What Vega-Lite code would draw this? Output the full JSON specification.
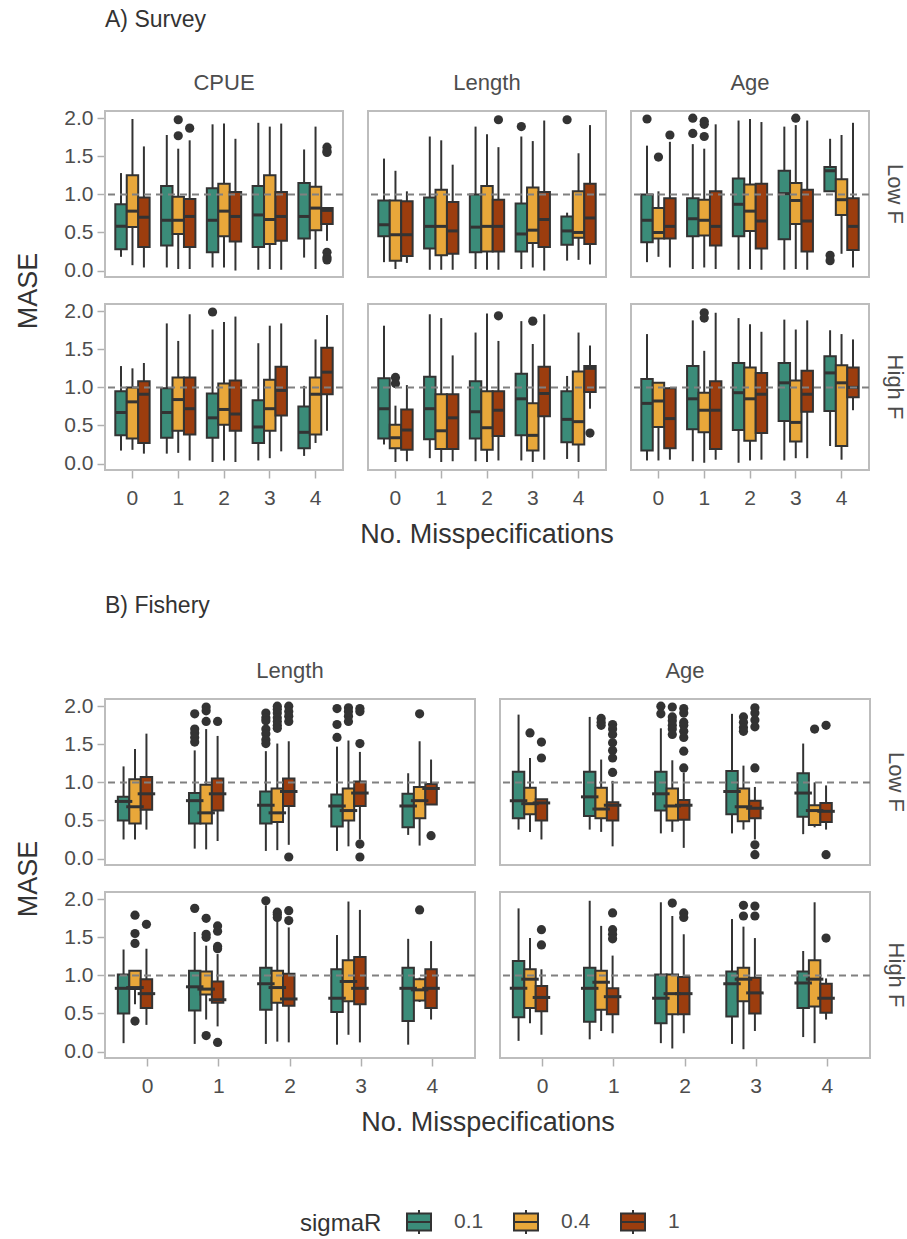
{
  "$schema": "https://vega.github.io/schema/vega-lite/v6.json",
  "background": "white",
  "padding": {"left": 15, "top": 9, "right": 4, "bottom": 100},
  "datasets": {
    "survey": [
      {"p":"CPUE","F":"Low F","x":0,"s":"0.1","lo":0.18,"q1":0.28,"m":0.58,"q3":0.87,"hi":1.28},
      {"p":"CPUE","F":"Low F","x":0,"s":"0.4","lo":0.07,"q1":0.57,"m":0.78,"q3":1.25,"hi":1.99},
      {"p":"CPUE","F":"Low F","x":0,"s":"1","lo":0.04,"q1":0.31,"m":0.70,"q3":0.96,"hi":1.63},
      {"p":"CPUE","F":"Low F","x":1,"s":"0.1","lo":0.04,"q1":0.33,"m":0.66,"q3":1.11,"hi":1.78},
      {"p":"CPUE","F":"Low F","x":1,"s":"0.4","lo":0.02,"q1":0.48,"m":0.66,"q3":0.97,"hi":1.60},
      {"p":"CPUE","F":"Low F","x":1,"s":"1","lo":0.02,"q1":0.31,"m":0.71,"q3":0.94,"hi":1.71},
      {"p":"CPUE","F":"Low F","x":2,"s":"0.1","lo":0.04,"q1":0.24,"m":0.66,"q3":1.08,"hi":1.92},
      {"p":"CPUE","F":"Low F","x":2,"s":"0.4","lo":0.04,"q1":0.45,"m":0.78,"q3":1.14,"hi":1.93},
      {"p":"CPUE","F":"Low F","x":2,"s":"1","lo":0.0,"q1":0.38,"m":0.71,"q3":1.03,"hi":1.73},
      {"p":"CPUE","F":"Low F","x":3,"s":"0.1","lo":0.01,"q1":0.31,"m":0.73,"q3":1.11,"hi":1.94},
      {"p":"CPUE","F":"Low F","x":3,"s":"0.4","lo":0.02,"q1":0.35,"m":0.67,"q3":1.25,"hi":1.89},
      {"p":"CPUE","F":"Low F","x":3,"s":"1","lo":0.01,"q1":0.39,"m":0.71,"q3":1.03,"hi":1.93},
      {"p":"CPUE","F":"Low F","x":4,"s":"0.1","lo":0.17,"q1":0.42,"m":0.71,"q3":1.15,"hi":1.59},
      {"p":"CPUE","F":"Low F","x":4,"s":"0.4","lo":0.02,"q1":0.53,"m":0.82,"q3":1.10,"hi":1.89},
      {"p":"CPUE","F":"Low F","x":4,"s":"1","lo":0.39,"q1":0.61,"m":0.79,"q3":0.82,"hi":0.82},
      {"p":"CPUE","F":"Low F","x":1,"s":"0.4","o":1.98},
      {"p":"CPUE","F":"Low F","x":1,"s":"0.4","o":1.77},
      {"p":"CPUE","F":"Low F","x":1,"s":"1","o":1.87},
      {"p":"CPUE","F":"Low F","x":4,"s":"1","o":1.62},
      {"p":"CPUE","F":"Low F","x":4,"s":"1","o":1.57},
      {"p":"CPUE","F":"Low F","x":4,"s":"1","o":1.55},
      {"p":"CPUE","F":"Low F","x":4,"s":"1","o":0.24},
      {"p":"CPUE","F":"Low F","x":4,"s":"1","o":0.17},
      {"p":"CPUE","F":"Low F","x":4,"s":"1","o":0.14},

      {"p":"Length","F":"Low F","x":0,"s":"0.1","lo":0.11,"q1":0.45,"m":0.60,"q3":0.92,"hi":1.47},
      {"p":"Length","F":"Low F","x":0,"s":"0.4","lo":0.02,"q1":0.13,"m":0.47,"q3":0.92,"hi":1.31},
      {"p":"Length","F":"Low F","x":0,"s":"1","lo":0.10,"q1":0.19,"m":0.47,"q3":0.91,"hi":1.04},
      {"p":"Length","F":"Low F","x":1,"s":"0.1","lo":0.01,"q1":0.29,"m":0.58,"q3":0.96,"hi":1.76},
      {"p":"Length","F":"Low F","x":1,"s":"0.4","lo":0.01,"q1":0.20,"m":0.58,"q3":1.06,"hi":1.71},
      {"p":"Length","F":"Low F","x":1,"s":"1","lo":0.01,"q1":0.22,"m":0.52,"q3":0.90,"hi":1.39},
      {"p":"Length","F":"Low F","x":2,"s":"0.1","lo":0.02,"q1":0.24,"m":0.57,"q3":1.00,"hi":1.89},
      {"p":"Length","F":"Low F","x":2,"s":"0.4","lo":0.01,"q1":0.25,"m":0.58,"q3":1.11,"hi":1.79},
      {"p":"Length","F":"Low F","x":2,"s":"1","lo":0.01,"q1":0.25,"m":0.58,"q3":0.93,"hi":1.62},
      {"p":"Length","F":"Low F","x":3,"s":"0.1","lo":0.02,"q1":0.25,"m":0.48,"q3":0.88,"hi":1.76},
      {"p":"Length","F":"Low F","x":3,"s":"0.4","lo":0.04,"q1":0.36,"m":0.53,"q3":1.09,"hi":1.70},
      {"p":"Length","F":"Low F","x":3,"s":"1","lo":0.0,"q1":0.31,"m":0.67,"q3":1.03,"hi":1.97},
      {"p":"Length","F":"Low F","x":4,"s":"0.1","lo":0.13,"q1":0.34,"m":0.52,"q3":0.71,"hi":0.76},
      {"p":"Length","F":"Low F","x":4,"s":"0.4","lo":0.14,"q1":0.43,"m":0.50,"q3":1.04,"hi":1.54},
      {"p":"Length","F":"Low F","x":4,"s":"1","lo":0.08,"q1":0.35,"m":0.69,"q3":1.14,"hi":1.91},
      {"p":"Length","F":"Low F","x":2,"s":"1","o":1.98},
      {"p":"Length","F":"Low F","x":3,"s":"0.1","o":1.89},
      {"p":"Length","F":"Low F","x":4,"s":"0.1","o":1.98},

      {"p":"Age","F":"Low F","x":0,"s":"0.1","lo":0.11,"q1":0.37,"m":0.66,"q3":1.00,"hi":1.64},
      {"p":"Age","F":"Low F","x":0,"s":"0.4","lo":0.18,"q1":0.42,"m":0.50,"q3":0.82,"hi":1.04},
      {"p":"Age","F":"Low F","x":0,"s":"1","lo":0.04,"q1":0.42,"m":0.58,"q3":0.95,"hi":1.69},
      {"p":"Age","F":"Low F","x":1,"s":"0.1","lo":0.02,"q1":0.45,"m":0.68,"q3":0.95,"hi":1.66},
      {"p":"Age","F":"Low F","x":1,"s":"0.4","lo":0.04,"q1":0.46,"m":0.66,"q3":0.93,"hi":1.60},
      {"p":"Age","F":"Low F","x":1,"s":"1","lo":0.02,"q1":0.33,"m":0.58,"q3":1.04,"hi":1.92},
      {"p":"Age","F":"Low F","x":2,"s":"0.1","lo":0.01,"q1":0.45,"m":0.87,"q3":1.21,"hi":1.97},
      {"p":"Age","F":"Low F","x":2,"s":"0.4","lo":0.02,"q1":0.52,"m":0.78,"q3":1.13,"hi":1.99},
      {"p":"Age","F":"Low F","x":2,"s":"1","lo":0.01,"q1":0.29,"m":0.65,"q3":1.14,"hi":1.95},
      {"p":"Age","F":"Low F","x":3,"s":"0.1","lo":0.01,"q1":0.41,"m":1.01,"q3":1.31,"hi":1.89},
      {"p":"Age","F":"Low F","x":3,"s":"0.4","lo":0.02,"q1":0.61,"m":0.92,"q3":1.15,"hi":1.91},
      {"p":"Age","F":"Low F","x":3,"s":"1","lo":0.01,"q1":0.25,"m":0.65,"q3":1.06,"hi":1.97},
      {"p":"Age","F":"Low F","x":4,"s":"0.1","lo":1.04,"q1":1.04,"m":1.31,"q3":1.36,"hi":1.73},
      {"p":"Age","F":"Low F","x":4,"s":"0.4","lo":0.22,"q1":0.73,"m":0.93,"q3":1.20,"hi":1.78},
      {"p":"Age","F":"Low F","x":4,"s":"1","lo":0.04,"q1":0.27,"m":0.58,"q3":0.95,"hi":1.94},
      {"p":"Age","F":"Low F","x":0,"s":"0.1","o":1.99},
      {"p":"Age","F":"Low F","x":0,"s":"0.4","o":1.49},
      {"p":"Age","F":"Low F","x":0,"s":"1","o":1.78},
      {"p":"Age","F":"Low F","x":1,"s":"0.1","o":2.0},
      {"p":"Age","F":"Low F","x":1,"s":"0.1","o":1.80},
      {"p":"Age","F":"Low F","x":1,"s":"0.4","o":1.96},
      {"p":"Age","F":"Low F","x":1,"s":"0.4","o":1.92},
      {"p":"Age","F":"Low F","x":1,"s":"0.4","o":1.76},
      {"p":"Age","F":"Low F","x":3,"s":"0.4","o":2.0},
      {"p":"Age","F":"Low F","x":4,"s":"0.1","o":0.20},
      {"p":"Age","F":"Low F","x":4,"s":"0.1","o":0.13},

      {"p":"CPUE","F":"High F","x":0,"s":"0.1","lo":0.17,"q1":0.37,"m":0.67,"q3":0.95,"hi":1.28},
      {"p":"CPUE","F":"High F","x":0,"s":"0.4","lo":0.18,"q1":0.33,"m":0.81,"q3":1.00,"hi":1.25},
      {"p":"CPUE","F":"High F","x":0,"s":"1","lo":0.13,"q1":0.27,"m":0.91,"q3":1.08,"hi":1.32},
      {"p":"CPUE","F":"High F","x":1,"s":"0.1","lo":0.13,"q1":0.34,"m":0.67,"q3":0.99,"hi":1.84},
      {"p":"CPUE","F":"High F","x":1,"s":"0.4","lo":0.14,"q1":0.43,"m":0.84,"q3":1.13,"hi":1.61},
      {"p":"CPUE","F":"High F","x":1,"s":"1","lo":0.04,"q1":0.38,"m":0.72,"q3":1.13,"hi":1.96},
      {"p":"CPUE","F":"High F","x":2,"s":"0.1","lo":0.02,"q1":0.34,"m":0.60,"q3":0.92,"hi":1.76},
      {"p":"CPUE","F":"High F","x":2,"s":"0.4","lo":0.04,"q1":0.51,"m":0.71,"q3":1.05,"hi":1.86},
      {"p":"CPUE","F":"High F","x":2,"s":"1","lo":0.02,"q1":0.43,"m":0.65,"q3":1.09,"hi":1.93},
      {"p":"CPUE","F":"High F","x":3,"s":"0.1","lo":0.04,"q1":0.27,"m":0.48,"q3":0.83,"hi":1.58},
      {"p":"CPUE","F":"High F","x":3,"s":"0.4","lo":0.07,"q1":0.43,"m":0.72,"q3":1.10,"hi":1.81},
      {"p":"CPUE","F":"High F","x":3,"s":"1","lo":0.16,"q1":0.63,"m":0.96,"q3":1.27,"hi":1.84},
      {"p":"CPUE","F":"High F","x":4,"s":"0.1","lo":0.10,"q1":0.20,"m":0.41,"q3":0.75,"hi":1.02},
      {"p":"CPUE","F":"High F","x":4,"s":"0.4","lo":0.27,"q1":0.38,"m":0.91,"q3":1.13,"hi":1.63},
      {"p":"CPUE","F":"High F","x":4,"s":"1","lo":0.43,"q1":0.91,"m":1.20,"q3":1.52,"hi":1.95},
      {"p":"CPUE","F":"High F","x":2,"s":"0.1","o":1.99},

      {"p":"Length","F":"High F","x":0,"s":"0.1","lo":0.25,"q1":0.33,"m":0.72,"q3":1.12,"hi":1.81},
      {"p":"Length","F":"High F","x":0,"s":"0.4","lo":0.02,"q1":0.20,"m":0.34,"q3":0.51,"hi":0.76},
      {"p":"Length","F":"High F","x":0,"s":"1","lo":0.03,"q1":0.18,"m":0.44,"q3":0.71,"hi":1.03},
      {"p":"Length","F":"High F","x":1,"s":"0.1","lo":0.07,"q1":0.32,"m":0.72,"q3":1.14,"hi":1.96},
      {"p":"Length","F":"High F","x":1,"s":"0.4","lo":0.02,"q1":0.19,"m":0.43,"q3":0.91,"hi":1.91},
      {"p":"Length","F":"High F","x":1,"s":"1","lo":0.03,"q1":0.19,"m":0.60,"q3":0.91,"hi":1.42},
      {"p":"Length","F":"High F","x":2,"s":"0.1","lo":0.03,"q1":0.33,"m":0.68,"q3":1.08,"hi":1.72},
      {"p":"Length","F":"High F","x":2,"s":"0.4","lo":0.02,"q1":0.18,"m":0.47,"q3":0.95,"hi":1.97},
      {"p":"Length","F":"High F","x":2,"s":"1","lo":0.04,"q1":0.36,"m":0.70,"q3":0.95,"hi":1.61},
      {"p":"Length","F":"High F","x":3,"s":"0.1","lo":0.04,"q1":0.37,"m":0.85,"q3":1.18,"hi":1.87},
      {"p":"Length","F":"High F","x":3,"s":"0.4","lo":0.02,"q1":0.17,"m":0.37,"q3":0.79,"hi":1.57},
      {"p":"Length","F":"High F","x":3,"s":"1","lo":0.05,"q1":0.62,"m":0.92,"q3":1.27,"hi":1.96},
      {"p":"Length","F":"High F","x":4,"s":"0.1","lo":0.06,"q1":0.28,"m":0.58,"q3":0.95,"hi":1.15},
      {"p":"Length","F":"High F","x":4,"s":"0.4","lo":0.02,"q1":0.25,"m":0.55,"q3":1.21,"hi":1.72},
      {"p":"Length","F":"High F","x":4,"s":"1","lo":0.72,"q1":0.94,"m":1.25,"q3":1.28,"hi":1.55},
      {"p":"Length","F":"High F","x":0,"s":"0.4","o":1.13},
      {"p":"Length","F":"High F","x":0,"s":"0.4","o":1.05},
      {"p":"Length","F":"High F","x":2,"s":"1","o":1.94},
      {"p":"Length","F":"High F","x":3,"s":"0.4","o":1.87},
      {"p":"Length","F":"High F","x":4,"s":"1","o":0.40},

      {"p":"Age","F":"High F","x":0,"s":"0.1","lo":0.04,"q1":0.17,"m":0.79,"q3":1.11,"hi":1.70},
      {"p":"Age","F":"High F","x":0,"s":"0.4","lo":0.04,"q1":0.48,"m":0.82,"q3":1.06,"hi":1.06},
      {"p":"Age","F":"High F","x":0,"s":"1","lo":0.05,"q1":0.20,"m":0.59,"q3":0.99,"hi":1.00},
      {"p":"Age","F":"High F","x":1,"s":"0.1","lo":0.03,"q1":0.45,"m":0.85,"q3":1.28,"hi":1.88},
      {"p":"Age","F":"High F","x":1,"s":"0.4","lo":0.01,"q1":0.41,"m":0.70,"q3":0.93,"hi":1.48},
      {"p":"Age","F":"High F","x":1,"s":"1","lo":0.05,"q1":0.19,"m":0.70,"q3":1.08,"hi":1.98},
      {"p":"Age","F":"High F","x":2,"s":"0.1","lo":0.01,"q1":0.44,"m":0.93,"q3":1.32,"hi":1.91},
      {"p":"Age","F":"High F","x":2,"s":"0.4","lo":0.04,"q1":0.30,"m":0.85,"q3":1.26,"hi":1.83},
      {"p":"Age","F":"High F","x":2,"s":"1","lo":0.05,"q1":0.40,"m":0.91,"q3":1.19,"hi":1.73},
      {"p":"Age","F":"High F","x":3,"s":"0.1","lo":0.04,"q1":0.56,"m":1.06,"q3":1.32,"hi":1.89},
      {"p":"Age","F":"High F","x":3,"s":"0.4","lo":0.07,"q1":0.29,"m":0.54,"q3":1.09,"hi":1.76},
      {"p":"Age","F":"High F","x":3,"s":"1","lo":0.07,"q1":0.68,"m":0.91,"q3":1.22,"hi":1.88},
      {"p":"Age","F":"High F","x":4,"s":"0.1","lo":0.23,"q1":0.69,"m":1.19,"q3":1.41,"hi":1.75},
      {"p":"Age","F":"High F","x":4,"s":"0.4","lo":0.05,"q1":0.23,"m":1.06,"q3":1.29,"hi":1.70},
      {"p":"Age","F":"High F","x":4,"s":"1","lo":0.70,"q1":0.87,"m":1.00,"q3":1.26,"hi":1.63},
      {"p":"Age","F":"High F","x":1,"s":"0.4","o":1.98},
      {"p":"Age","F":"High F","x":1,"s":"0.4","o":1.91}
    ],
    "fishery": [
      {"p":"Length","F":"Low F","x":0,"s":"0.1","lo":0.25,"q1":0.50,"m":0.75,"q3":0.81,"hi":1.21},
      {"p":"Length","F":"Low F","x":0,"s":"0.4","lo":0.25,"q1":0.46,"m":0.68,"q3":1.04,"hi":1.44},
      {"p":"Length","F":"Low F","x":0,"s":"1","lo":0.38,"q1":0.64,"m":0.85,"q3":1.07,"hi":1.64},
      {"p":"Length","F":"Low F","x":1,"s":"0.1","lo":0.13,"q1":0.46,"m":0.76,"q3":0.86,"hi":1.42},
      {"p":"Length","F":"Low F","x":1,"s":"0.4","lo":0.12,"q1":0.46,"m":0.60,"q3":0.97,"hi":1.70},
      {"p":"Length","F":"Low F","x":1,"s":"1","lo":0.23,"q1":0.63,"m":0.85,"q3":1.05,"hi":1.61},
      {"p":"Length","F":"Low F","x":2,"s":"0.1","lo":0.10,"q1":0.46,"m":0.70,"q3":0.88,"hi":1.41},
      {"p":"Length","F":"Low F","x":2,"s":"0.4","lo":0.11,"q1":0.48,"m":0.60,"q3":0.92,"hi":1.51},
      {"p":"Length","F":"Low F","x":2,"s":"1","lo":0.18,"q1":0.69,"m":0.88,"q3":1.05,"hi":1.54},
      {"p":"Length","F":"Low F","x":3,"s":"0.1","lo":0.10,"q1":0.42,"m":0.69,"q3":0.84,"hi":1.47},
      {"p":"Length","F":"Low F","x":3,"s":"0.4","lo":0.16,"q1":0.50,"m":0.63,"q3":0.92,"hi":1.55},
      {"p":"Length","F":"Low F","x":3,"s":"1","lo":0.25,"q1":0.69,"m":0.86,"q3":1.01,"hi":1.40},
      {"p":"Length","F":"Low F","x":4,"s":"0.1","lo":0.31,"q1":0.41,"m":0.69,"q3":0.85,"hi":1.12},
      {"p":"Length","F":"Low F","x":4,"s":"0.4","lo":0.17,"q1":0.53,"m":0.76,"q3":0.94,"hi":1.54},
      {"p":"Length","F":"Low F","x":4,"s":"1","lo":0.71,"q1":0.71,"m":0.92,"q3":0.98,"hi":1.30},
      {"p":"Length","F":"Low F","x":1,"s":"0.1","o":1.90},
      {"p":"Length","F":"Low F","x":1,"s":"0.1","o":1.70},
      {"p":"Length","F":"Low F","x":1,"s":"0.1","o":1.65},
      {"p":"Length","F":"Low F","x":1,"s":"0.1","o":1.59},
      {"p":"Length","F":"Low F","x":1,"s":"0.1","o":1.53},
      {"p":"Length","F":"Low F","x":1,"s":"0.4","o":1.99},
      {"p":"Length","F":"Low F","x":1,"s":"0.4","o":1.94},
      {"p":"Length","F":"Low F","x":1,"s":"0.4","o":1.80},
      {"p":"Length","F":"Low F","x":1,"s":"1","o":1.80},
      {"p":"Length","F":"Low F","x":2,"s":"0.1","o":1.91},
      {"p":"Length","F":"Low F","x":2,"s":"0.1","o":1.85},
      {"p":"Length","F":"Low F","x":2,"s":"0.1","o":1.81},
      {"p":"Length","F":"Low F","x":2,"s":"0.1","o":1.70},
      {"p":"Length","F":"Low F","x":2,"s":"0.1","o":1.64},
      {"p":"Length","F":"Low F","x":2,"s":"0.1","o":1.56},
      {"p":"Length","F":"Low F","x":2,"s":"0.1","o":1.51},
      {"p":"Length","F":"Low F","x":2,"s":"0.4","o":2.0},
      {"p":"Length","F":"Low F","x":2,"s":"0.4","o":1.96},
      {"p":"Length","F":"Low F","x":2,"s":"0.4","o":1.91},
      {"p":"Length","F":"Low F","x":2,"s":"0.4","o":1.85},
      {"p":"Length","F":"Low F","x":2,"s":"0.4","o":1.80},
      {"p":"Length","F":"Low F","x":2,"s":"0.4","o":1.75},
      {"p":"Length","F":"Low F","x":2,"s":"0.4","o":1.71},
      {"p":"Length","F":"Low F","x":2,"s":"1","o":2.0},
      {"p":"Length","F":"Low F","x":2,"s":"1","o":1.93},
      {"p":"Length","F":"Low F","x":2,"s":"1","o":1.87},
      {"p":"Length","F":"Low F","x":2,"s":"1","o":1.80},
      {"p":"Length","F":"Low F","x":2,"s":"1","o":0.02},
      {"p":"Length","F":"Low F","x":3,"s":"0.1","o":1.97},
      {"p":"Length","F":"Low F","x":3,"s":"0.1","o":1.76},
      {"p":"Length","F":"Low F","x":3,"s":"0.1","o":1.59},
      {"p":"Length","F":"Low F","x":3,"s":"0.4","o":1.98},
      {"p":"Length","F":"Low F","x":3,"s":"0.4","o":1.93},
      {"p":"Length","F":"Low F","x":3,"s":"0.4","o":1.87},
      {"p":"Length","F":"Low F","x":3,"s":"0.4","o":1.80},
      {"p":"Length","F":"Low F","x":3,"s":"1","o":1.97},
      {"p":"Length","F":"Low F","x":3,"s":"1","o":1.93},
      {"p":"Length","F":"Low F","x":3,"s":"1","o":1.51},
      {"p":"Length","F":"Low F","x":3,"s":"1","o":0.19},
      {"p":"Length","F":"Low F","x":3,"s":"1","o":0.02},
      {"p":"Length","F":"Low F","x":4,"s":"0.4","o":1.90},
      {"p":"Length","F":"Low F","x":4,"s":"1","o":0.30},

      {"p":"Age","F":"Low F","x":0,"s":"0.1","lo":0.38,"q1":0.53,"m":0.76,"q3":1.14,"hi":1.89},
      {"p":"Age","F":"Low F","x":0,"s":"0.4","lo":0.35,"q1":0.58,"m":0.72,"q3":0.93,"hi":1.32},
      {"p":"Age","F":"Low F","x":0,"s":"1","lo":0.25,"q1":0.50,"m":0.73,"q3":0.78,"hi":0.78},
      {"p":"Age","F":"Low F","x":1,"s":"0.1","lo":0.38,"q1":0.56,"m":0.81,"q3":1.14,"hi":1.86},
      {"p":"Age","F":"Low F","x":1,"s":"0.4","lo":0.35,"q1":0.53,"m":0.65,"q3":0.93,"hi":1.30},
      {"p":"Age","F":"Low F","x":1,"s":"1","lo":0.16,"q1":0.50,"m":0.70,"q3":0.74,"hi":1.02},
      {"p":"Age","F":"Low F","x":2,"s":"0.1","lo":0.33,"q1":0.63,"m":0.85,"q3":1.14,"hi":1.71},
      {"p":"Age","F":"Low F","x":2,"s":"0.4","lo":0.35,"q1":0.50,"m":0.69,"q3":0.92,"hi":1.29},
      {"p":"Age","F":"Low F","x":2,"s":"1","lo":0.14,"q1":0.51,"m":0.70,"q3":0.77,"hi":1.13},
      {"p":"Age","F":"Low F","x":3,"s":"0.1","lo":0.33,"q1":0.58,"m":0.88,"q3":1.15,"hi":1.90},
      {"p":"Age","F":"Low F","x":3,"s":"0.4","lo":0.38,"q1":0.49,"m":0.68,"q3":0.92,"hi":1.22},
      {"p":"Age","F":"Low F","x":3,"s":"1","lo":0.25,"q1":0.53,"m":0.66,"q3":0.76,"hi":0.94},
      {"p":"Age","F":"Low F","x":4,"s":"0.1","lo":0.32,"q1":0.55,"m":0.86,"q3":1.12,"hi":1.51},
      {"p":"Age","F":"Low F","x":4,"s":"0.4","lo":0.41,"q1":0.44,"m":0.63,"q3":0.70,"hi":1.00},
      {"p":"Age","F":"Low F","x":4,"s":"1","lo":0.38,"q1":0.48,"m":0.62,"q3":0.73,"hi":0.96},
      {"p":"Age","F":"Low F","x":0,"s":"0.4","o":1.65},
      {"p":"Age","F":"Low F","x":0,"s":"1","o":1.53},
      {"p":"Age","F":"Low F","x":0,"s":"1","o":1.32},
      {"p":"Age","F":"Low F","x":1,"s":"0.4","o":1.84},
      {"p":"Age","F":"Low F","x":1,"s":"0.4","o":1.79},
      {"p":"Age","F":"Low F","x":1,"s":"0.4","o":1.75},
      {"p":"Age","F":"Low F","x":1,"s":"1","o":1.76},
      {"p":"Age","F":"Low F","x":1,"s":"1","o":1.70},
      {"p":"Age","F":"Low F","x":1,"s":"1","o":1.63},
      {"p":"Age","F":"Low F","x":1,"s":"1","o":1.52},
      {"p":"Age","F":"Low F","x":1,"s":"1","o":1.42},
      {"p":"Age","F":"Low F","x":1,"s":"1","o":1.32},
      {"p":"Age","F":"Low F","x":1,"s":"1","o":1.13},
      {"p":"Age","F":"Low F","x":2,"s":"0.1","o":2.0},
      {"p":"Age","F":"Low F","x":2,"s":"0.1","o":1.90},
      {"p":"Age","F":"Low F","x":2,"s":"0.4","o":1.99},
      {"p":"Age","F":"Low F","x":2,"s":"0.4","o":1.86},
      {"p":"Age","F":"Low F","x":2,"s":"0.4","o":1.81},
      {"p":"Age","F":"Low F","x":2,"s":"0.4","o":1.75},
      {"p":"Age","F":"Low F","x":2,"s":"0.4","o":1.70},
      {"p":"Age","F":"Low F","x":2,"s":"0.4","o":1.63},
      {"p":"Age","F":"Low F","x":2,"s":"1","o":1.97},
      {"p":"Age","F":"Low F","x":2,"s":"1","o":1.91},
      {"p":"Age","F":"Low F","x":2,"s":"1","o":1.79},
      {"p":"Age","F":"Low F","x":2,"s":"1","o":1.75},
      {"p":"Age","F":"Low F","x":2,"s":"1","o":1.67},
      {"p":"Age","F":"Low F","x":2,"s":"1","o":1.59},
      {"p":"Age","F":"Low F","x":2,"s":"1","o":1.41},
      {"p":"Age","F":"Low F","x":2,"s":"1","o":1.19},
      {"p":"Age","F":"Low F","x":3,"s":"0.4","o":1.86},
      {"p":"Age","F":"Low F","x":3,"s":"0.4","o":1.79},
      {"p":"Age","F":"Low F","x":3,"s":"0.4","o":1.72},
      {"p":"Age","F":"Low F","x":3,"s":"0.4","o":1.67},
      {"p":"Age","F":"Low F","x":3,"s":"1","o":1.98},
      {"p":"Age","F":"Low F","x":3,"s":"1","o":1.91},
      {"p":"Age","F":"Low F","x":3,"s":"1","o":1.82},
      {"p":"Age","F":"Low F","x":3,"s":"1","o":1.73},
      {"p":"Age","F":"Low F","x":3,"s":"1","o":1.19},
      {"p":"Age","F":"Low F","x":3,"s":"1","o":0.18},
      {"p":"Age","F":"Low F","x":3,"s":"1","o":0.05},
      {"p":"Age","F":"Low F","x":4,"s":"0.4","o":1.70},
      {"p":"Age","F":"Low F","x":4,"s":"1","o":1.75},
      {"p":"Age","F":"Low F","x":4,"s":"1","o":0.05},

      {"p":"Length","F":"High F","x":0,"s":"0.1","lo":0.11,"q1":0.50,"m":0.83,"q3":1.01,"hi":1.34},
      {"p":"Length","F":"High F","x":0,"s":"0.4","lo":0.62,"q1":0.82,"m":0.84,"q3":1.06,"hi":1.06},
      {"p":"Length","F":"High F","x":0,"s":"1","lo":0.35,"q1":0.57,"m":0.76,"q3":0.95,"hi":1.35},
      {"p":"Length","F":"High F","x":1,"s":"0.1","lo":0.10,"q1":0.54,"m":0.85,"q3":1.06,"hi":1.57},
      {"p":"Length","F":"High F","x":1,"s":"0.4","lo":0.42,"q1":0.75,"m":0.82,"q3":1.05,"hi":1.39},
      {"p":"Length","F":"High F","x":1,"s":"1","lo":0.33,"q1":0.64,"m":0.68,"q3":0.92,"hi":1.28},
      {"p":"Length","F":"High F","x":2,"s":"0.1","lo":0.10,"q1":0.55,"m":0.89,"q3":1.10,"hi":1.92},
      {"p":"Length","F":"High F","x":2,"s":"0.4","lo":0.13,"q1":0.64,"m":0.84,"q3":1.06,"hi":1.72},
      {"p":"Length","F":"High F","x":2,"s":"1","lo":0.12,"q1":0.60,"m":0.69,"q3":1.02,"hi":1.63},
      {"p":"Length","F":"High F","x":3,"s":"0.1","lo":0.09,"q1":0.52,"m":0.70,"q3":1.08,"hi":1.53},
      {"p":"Length","F":"High F","x":3,"s":"0.4","lo":0.22,"q1":0.66,"m":0.92,"q3":1.20,"hi":1.97},
      {"p":"Length","F":"High F","x":3,"s":"1","lo":0.12,"q1":0.62,"m":0.83,"q3":1.24,"hi":1.86},
      {"p":"Length","F":"High F","x":4,"s":"0.1","lo":0.09,"q1":0.40,"m":0.83,"q3":1.10,"hi":1.48},
      {"p":"Length","F":"High F","x":4,"s":"0.4","lo":0.65,"q1":0.67,"m":0.81,"q3":0.95,"hi":0.97},
      {"p":"Length","F":"High F","x":4,"s":"1","lo":0.42,"q1":0.57,"m":0.83,"q3":1.08,"hi":1.45},
      {"p":"Length","F":"High F","x":0,"s":"0.4","o":1.79},
      {"p":"Length","F":"High F","x":0,"s":"0.4","o":1.55},
      {"p":"Length","F":"High F","x":0,"s":"0.4","o":1.42},
      {"p":"Length","F":"High F","x":0,"s":"0.4","o":0.40},
      {"p":"Length","F":"High F","x":0,"s":"1","o":1.67},
      {"p":"Length","F":"High F","x":1,"s":"0.1","o":1.88},
      {"p":"Length","F":"High F","x":1,"s":"0.4","o":1.75},
      {"p":"Length","F":"High F","x":1,"s":"0.4","o":1.54},
      {"p":"Length","F":"High F","x":1,"s":"0.4","o":1.50},
      {"p":"Length","F":"High F","x":1,"s":"0.4","o":0.21},
      {"p":"Length","F":"High F","x":1,"s":"1","o":1.65},
      {"p":"Length","F":"High F","x":1,"s":"1","o":1.58},
      {"p":"Length","F":"High F","x":1,"s":"1","o":1.38},
      {"p":"Length","F":"High F","x":1,"s":"1","o":1.35},
      {"p":"Length","F":"High F","x":1,"s":"1","o":0.12},
      {"p":"Length","F":"High F","x":2,"s":"0.1","o":1.98},
      {"p":"Length","F":"High F","x":2,"s":"0.4","o":1.83},
      {"p":"Length","F":"High F","x":2,"s":"0.4","o":1.80},
      {"p":"Length","F":"High F","x":2,"s":"0.4","o":1.76},
      {"p":"Length","F":"High F","x":2,"s":"1","o":1.85},
      {"p":"Length","F":"High F","x":2,"s":"1","o":1.72},
      {"p":"Length","F":"High F","x":4,"s":"0.4","o":1.86},

      {"p":"Age","F":"High F","x":0,"s":"0.1","lo":0.14,"q1":0.45,"m":0.83,"q3":1.19,"hi":1.88},
      {"p":"Age","F":"High F","x":0,"s":"0.4","lo":0.37,"q1":0.57,"m":0.95,"q3":1.08,"hi":1.49},
      {"p":"Age","F":"High F","x":0,"s":"1","lo":0.22,"q1":0.53,"m":0.71,"q3":0.86,"hi":1.08},
      {"p":"Age","F":"High F","x":1,"s":"0.1","lo":0.16,"q1":0.39,"m":0.83,"q3":1.10,"hi":1.98},
      {"p":"Age","F":"High F","x":1,"s":"0.4","lo":0.27,"q1":0.55,"m":0.91,"q3":1.06,"hi":1.65},
      {"p":"Age","F":"High F","x":1,"s":"1","lo":0.24,"q1":0.49,"m":0.72,"q3":0.83,"hi":1.26},
      {"p":"Age","F":"High F","x":2,"s":"0.1","lo":0.11,"q1":0.37,"m":0.70,"q3":1.01,"hi":1.96},
      {"p":"Age","F":"High F","x":2,"s":"0.4","lo":0.04,"q1":0.49,"m":0.76,"q3":1.01,"hi":1.78},
      {"p":"Age","F":"High F","x":2,"s":"1","lo":0.24,"q1":0.49,"m":0.76,"q3":0.98,"hi":1.54},
      {"p":"Age","F":"High F","x":3,"s":"0.1","lo":0.10,"q1":0.46,"m":0.89,"q3":1.05,"hi":1.74},
      {"p":"Age","F":"High F","x":3,"s":"0.4","lo":0.03,"q1":0.66,"m":0.95,"q3":1.10,"hi":1.64},
      {"p":"Age","F":"High F","x":3,"s":"1","lo":0.27,"q1":0.50,"m":0.77,"q3":0.97,"hi":1.49},
      {"p":"Age","F":"High F","x":4,"s":"0.1","lo":0.19,"q1":0.57,"m":0.90,"q3":1.05,"hi":1.32},
      {"p":"Age","F":"High F","x":4,"s":"0.4","lo":0.11,"q1":0.59,"m":0.95,"q3":1.20,"hi":1.96},
      {"p":"Age","F":"High F","x":4,"s":"1","lo":0.42,"q1":0.51,"m":0.70,"q3":0.89,"hi":0.96},
      {"p":"Age","F":"High F","x":0,"s":"1","o":1.60},
      {"p":"Age","F":"High F","x":0,"s":"1","o":1.40},
      {"p":"Age","F":"High F","x":1,"s":"1","o":1.82},
      {"p":"Age","F":"High F","x":1,"s":"1","o":1.60},
      {"p":"Age","F":"High F","x":1,"s":"1","o":1.54},
      {"p":"Age","F":"High F","x":1,"s":"1","o":1.48},
      {"p":"Age","F":"High F","x":2,"s":"0.4","o":1.95},
      {"p":"Age","F":"High F","x":2,"s":"1","o":1.82},
      {"p":"Age","F":"High F","x":2,"s":"1","o":1.76},
      {"p":"Age","F":"High F","x":3,"s":"0.4","o":1.92},
      {"p":"Age","F":"High F","x":3,"s":"0.4","o":1.78},
      {"p":"Age","F":"High F","x":3,"s":"1","o":1.91},
      {"p":"Age","F":"High F","x":3,"s":"1","o":1.78},
      {"p":"Age","F":"High F","x":4,"s":"1","o":1.49}
    ]
  },
  "vconcat": [
    {
      "title": {"text": "A) Survey", "anchor": "start", "frame": "group", "offset": 40},
      "data": {"name": "survey"},
      "bounds": "flush",
      "facet": {
        "row": {"field": "F", "type": "nominal", "sort": ["Low F", "High F"], "title": "MASE",
                "header": {"labelOrient": "right", "labelAngle": 90, "labelPadding": 14, "titleOrient": "left", "titlePadding": 10}},
        "column": {"field": "p", "type": "nominal", "sort": ["CPUE", "Length", "Age"], "title": "No. Misspecifications",
                   "header": {"labelOrient": "top", "labelPadding": 16, "titleOrient": "bottom", "titlePadding": 4}}
      },
      "spacing": {"row": 27, "column": 25},
      "spec": {
        "width": 238,
        "height": 166,
        "layer": [
          {
            "transform": [{"filter": "isValid(datum.m)"}],
            "mark": {"type": "rule", "color": "#333333", "strokeWidth": 2},
            "encoding": {
              "x": {"field": "x", "type": "ordinal", "title": null, "scale": {"paddingInner": 0, "paddingOuter": 0.1}},
              "xOffset": {"field": "s", "type": "nominal", "scale": {"domain": ["0.1", "0.4", "1"], "paddingInner": 0, "paddingOuter": 0.5}},
              "y": {"field": "lo", "type": "quantitative", "title": null, "scale": {"domain": [-0.085, 2.095], "nice": false, "zero": false}},
              "y2": {"field": "hi"}
            }
          },
          {
            "transform": [{"filter": "isValid(datum.m)"}],
            "mark": {"type": "bar", "stroke": "#333333", "strokeWidth": 2, "width": {"band": 1}},
            "encoding": {
              "x": {"field": "x", "type": "ordinal", "title": null},
              "xOffset": {"field": "s", "type": "nominal"},
              "y": {"field": "q1", "type": "quantitative", "title": null},
              "y2": {"field": "q3"},
              "fill": {"field": "s", "type": "nominal", "title": "sigmaR",
                       "scale": {"domain": ["0.1", "0.4", "1"], "range": ["#3b8c79", "#e8a73a", "#9c3d0e"]}}
            }
          },
          {
            "transform": [{"filter": "isValid(datum.m)"}],
            "mark": {"type": "tick", "color": "#333333", "thickness": 3, "size": 11, "opacity": 1},
            "encoding": {
              "x": {"field": "x", "type": "ordinal", "title": null},
              "xOffset": {"field": "s", "type": "nominal"},
              "y": {"field": "m", "type": "quantitative", "title": null}
            }
          },
          {
            "transform": [{"filter": "isValid(datum.o)"}],
            "mark": {"type": "circle", "color": "#333333", "size": 85, "opacity": 1},
            "encoding": {
              "x": {"field": "x", "type": "ordinal", "title": null},
              "xOffset": {"field": "s", "type": "nominal"},
              "y": {"field": "o", "type": "quantitative", "title": null}
            }
          },
          {
            "transform": [{"filter": "isValid(datum.m) && datum.x === 0 && datum.s === '0.1'"}],
            "mark": {"type": "rule", "color": "#808080", "strokeWidth": 2, "strokeDash": [7, 5]},
            "encoding": {"y": {"datum": 1}}
          }
        ]
      }
    },
    {
      "title": {"text": "B) Fishery", "anchor": "start", "frame": "group", "offset": 42},
      "data": {"name": "fishery"},
      "bounds": "flush",
      "facet": {
        "row": {"field": "F", "type": "nominal", "sort": ["Low F", "High F"], "title": "MASE",
                "header": {"labelOrient": "right", "labelAngle": 90, "labelPadding": 14, "titleOrient": "left", "titlePadding": 10}},
        "column": {"field": "p", "type": "nominal", "sort": ["Length", "Age"], "title": "No. Misspecifications",
                   "header": {"labelOrient": "top", "labelPadding": 16, "titleOrient": "bottom", "titlePadding": 4}}
      },
      "spacing": {"row": 27, "column": 25},
      "spec": {
        "width": 370,
        "height": 166,
        "layer": [
          {
            "transform": [{"filter": "isValid(datum.m)"}],
            "mark": {"type": "rule", "color": "#333333", "strokeWidth": 2},
            "encoding": {
              "x": {"field": "x", "type": "ordinal", "title": null, "scale": {"paddingInner": 0, "paddingOuter": 0.1}},
              "xOffset": {"field": "s", "type": "nominal", "scale": {"domain": ["0.1", "0.4", "1"], "paddingInner": 0, "paddingOuter": 0.5}},
              "y": {"field": "lo", "type": "quantitative", "title": null, "scale": {"domain": [-0.085, 2.095], "nice": false, "zero": false}},
              "y2": {"field": "hi"}
            }
          },
          {
            "transform": [{"filter": "isValid(datum.m)"}],
            "mark": {"type": "bar", "stroke": "#333333", "strokeWidth": 2, "width": {"band": 1}},
            "encoding": {
              "x": {"field": "x", "type": "ordinal", "title": null},
              "xOffset": {"field": "s", "type": "nominal"},
              "y": {"field": "q1", "type": "quantitative", "title": null},
              "y2": {"field": "q3"},
              "fill": {"field": "s", "type": "nominal", "title": "sigmaR",
                       "scale": {"domain": ["0.1", "0.4", "1"], "range": ["#3b8c79", "#e8a73a", "#9c3d0e"]}}
            }
          },
          {
            "transform": [{"filter": "isValid(datum.m)"}],
            "mark": {"type": "tick", "color": "#333333", "thickness": 3, "size": 17.5, "opacity": 1},
            "encoding": {
              "x": {"field": "x", "type": "ordinal", "title": null},
              "xOffset": {"field": "s", "type": "nominal"},
              "y": {"field": "m", "type": "quantitative", "title": null}
            }
          },
          {
            "transform": [{"filter": "isValid(datum.o)"}],
            "mark": {"type": "circle", "color": "#333333", "size": 85, "opacity": 1},
            "encoding": {
              "x": {"field": "x", "type": "ordinal", "title": null},
              "xOffset": {"field": "s", "type": "nominal"},
              "y": {"field": "o", "type": "quantitative", "title": null}
            }
          },
          {
            "transform": [{"filter": "isValid(datum.m) && datum.x === 0 && datum.s === '0.1'"}],
            "mark": {"type": "rule", "color": "#808080", "strokeWidth": 2, "strokeDash": [7, 5]},
            "encoding": {"y": {"datum": 1}}
          }
        ]
      }
    }
  ],
  "spacing": 47,
  "config": {
    "font": "Liberation Sans",
    "view": {"stroke": "#bdbdbd", "strokeWidth": 2},
    "title": {"fontSize": 23, "fontWeight": "normal", "color": "#333333", "font": "Liberation Sans"},
    "axis": {
      "domain": false, "grid": false, "tickColor": "#b0b0b0", "tickWidth": 1.5, "tickSize": 8,
      "labelColor": "#4d4d4d", "labelFontSize": 21, "labelFont": "Liberation Sans", "labelPadding": 4
    },
    "axisX": {"labelAngle": 0, "bandPosition": 0.5, "labelPadding": 9},
    "axisY": {"values": [0, 0.5, 1, 1.5, 2], "format": ".1f"},
    "header": {
      "labelFontSize": 22, "labelColor": "#4d4d4d", "labelFont": "Liberation Sans",
      "titleFontSize": 27, "titleFontWeight": "normal", "titleColor": "#333333", "titleFont": "Liberation Sans"
    },
    "legend": {
      "orient": "none", "legendX": 195, "legendY": 1098, "direction": "horizontal", "titleOrient": "left",
      "titleFontSize": 24, "titleFontWeight": "normal", "titleColor": "#333333", "titleFont": "Liberation Sans",
      "titlePadding": 24, "titleBaseline": "middle",
      "labelFontSize": 21, "labelColor": "#4d4d4d", "labelFont": "Liberation Sans",
      "symbolType": "M-1,-0.7H1V0.7H-1Z M-1,0H1 M0,-0.7V-1 M0,0.7V1",
      "symbolSize": 576, "symbolStrokeColor": "#333333", "symbolStrokeWidth": 2, "symbolOpacity": 1,
      "labelOffset": 22, "columnPadding": 26
    }
  }
}
